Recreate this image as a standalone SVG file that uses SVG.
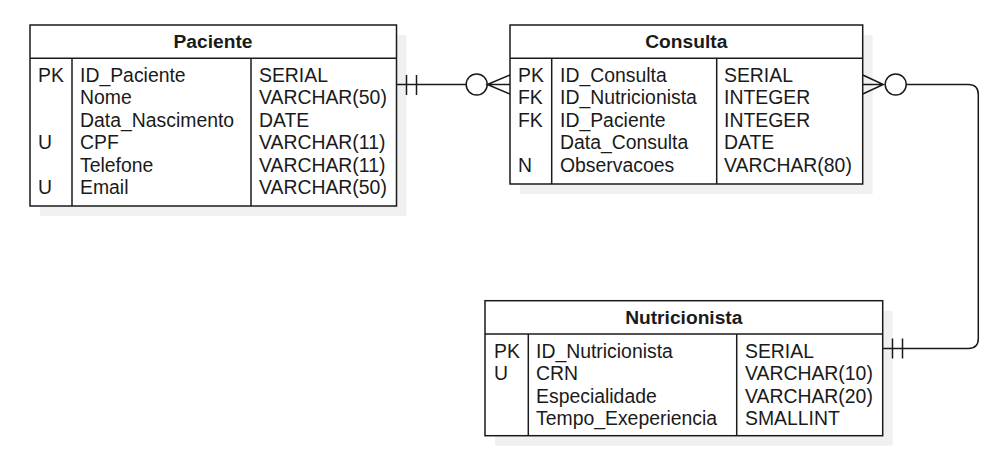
<svg xmlns="http://www.w3.org/2000/svg" width="1008" height="464" viewBox="0 0 1008 464">
<style>
.shadow{fill:#000;fill-opacity:0.06;stroke:none}
.box{fill:#fff;stroke:#1a1a1a;stroke-width:1.5}
.ln{fill:none;stroke:#1a1a1a;stroke-width:1.5}
.t{font-family:"Liberation Sans",Arial,sans-serif;font-size:19.4px;fill:#1a1a1a}
.h{font-family:"Liberation Sans",Arial,sans-serif;font-size:19.2px;font-weight:bold;fill:#1a1a1a;text-anchor:middle}
</style>
<rect width="1008" height="464" fill="#fff"/>
<g id="connectors">
  <!-- Paciente to Consulta -->
  <line class="ln" x1="396.5" y1="84.5" x2="466" y2="84.5"/>
  <line class="ln" x1="406.5" y1="75" x2="406.5" y2="95"/>
  <line class="ln" x1="416.5" y1="75" x2="416.5" y2="95"/>
  <circle class="ln" cx="476.7" cy="84.5" r="10.5" fill="#fff"/>
  <path class="ln" d="M510 75 L487.3 84.5 L510 94 M487.3 84.5 L510 84.5"/>
  <!-- Consulta to Nutricionista -->
  <path class="ln" d="M862.7 75 L883.3 84.5 L862.7 94 M862.7 84.5 L883.3 84.5"/>
  <circle class="ln" cx="895.7" cy="84.5" r="10.5" fill="#fff"/>
  <path class="ln" d="M906.2 84.5 H968.3 Q978.3 84.5 978.3 94.5 V338.5 Q978.3 348.5 968.3 348.5 H882.7"/>
  <line class="ln" x1="892.5" y1="338.5" x2="892.5" y2="358.5"/>
  <line class="ln" x1="902.5" y1="338.5" x2="902.5" y2="358.5"/>
</g>
<g id="Paciente">
  <rect class="shadow" x="40" y="35" width="366.5" height="181"/>
  <rect class="box" x="30" y="25" width="366.5" height="181"/>
  <line class="ln" x1="30" y1="58.3" x2="396.5" y2="58.3"/>
  <line class="ln" x1="72" y1="58.3" x2="72" y2="206"/>
  <line class="ln" x1="251" y1="58.3" x2="251" y2="206"/>
  <text class="h" x="213" y="48">Paciente</text>
  <text class="t" x="38" y="81.5">PK</text>
  <text class="t" x="38" y="149">U</text>
  <text class="t" x="38" y="194">U</text>
  <text class="t" x="80" y="81.5">ID_Paciente</text>
  <text class="t" x="80" y="104">Nome</text>
  <text class="t" x="80" y="126.5">Data_Nascimento</text>
  <text class="t" x="80" y="149">CPF</text>
  <text class="t" x="80" y="171.5">Telefone</text>
  <text class="t" x="80" y="194">Email</text>
  <text class="t" x="259" y="81.5">SERIAL</text>
  <text class="t" x="259" y="104">VARCHAR(50)</text>
  <text class="t" x="259" y="126.5">DATE</text>
  <text class="t" x="259" y="149">VARCHAR(11)</text>
  <text class="t" x="259" y="171.5">VARCHAR(11)</text>
  <text class="t" x="259" y="194">VARCHAR(50)</text>
</g>
<g id="Consulta">
  <rect class="shadow" x="520" y="35" width="352.7" height="159"/>
  <rect class="box" x="510" y="25" width="352.7" height="159"/>
  <line class="ln" x1="510" y1="58.3" x2="862.7" y2="58.3"/>
  <line class="ln" x1="551.7" y1="58.3" x2="551.7" y2="184"/>
  <line class="ln" x1="716.7" y1="58.3" x2="716.7" y2="184"/>
  <text class="h" x="686.3" y="48">Consulta</text>
  <text class="t" x="518" y="81.5">PK</text>
  <text class="t" x="518" y="104">FK</text>
  <text class="t" x="518" y="126.5">FK</text>
  <text class="t" x="518" y="171.5">N</text>
  <text class="t" x="560" y="81.5">ID_Consulta</text>
  <text class="t" x="560" y="104">ID_Nutricionista</text>
  <text class="t" x="560" y="126.5">ID_Paciente</text>
  <text class="t" x="560" y="149">Data_Consulta</text>
  <text class="t" x="560" y="171.5">Observacoes</text>
  <text class="t" x="724" y="81.5">SERIAL</text>
  <text class="t" x="724" y="104">INTEGER</text>
  <text class="t" x="724" y="126.5">INTEGER</text>
  <text class="t" x="724" y="149">DATE</text>
  <text class="t" x="724" y="171.5">VARCHAR(80)</text>
</g>
<g id="Nutricionista">
  <rect class="shadow" x="495" y="310.7" width="397.7" height="135"/>
  <rect class="box" x="485" y="300.7" width="397.7" height="135"/>
  <line class="ln" x1="485" y1="334" x2="882.7" y2="334"/>
  <line class="ln" x1="528.3" y1="334" x2="528.3" y2="435.7"/>
  <line class="ln" x1="736.7" y1="334" x2="736.7" y2="435.7"/>
  <text class="h" x="683.8" y="324">Nutricionista</text>
  <text class="t" x="494" y="357.5">PK</text>
  <text class="t" x="494" y="380">U</text>
  <text class="t" x="536" y="357.5">ID_Nutricionista</text>
  <text class="t" x="536" y="380">CRN</text>
  <text class="t" x="536" y="402.5">Especialidade</text>
  <text class="t" x="536" y="425">Tempo_Exeperiencia</text>
  <text class="t" x="745" y="357.5">SERIAL</text>
  <text class="t" x="745" y="380">VARCHAR(10)</text>
  <text class="t" x="745" y="402.5">VARCHAR(20)</text>
  <text class="t" x="745" y="425">SMALLINT</text>
</g>
</svg>
